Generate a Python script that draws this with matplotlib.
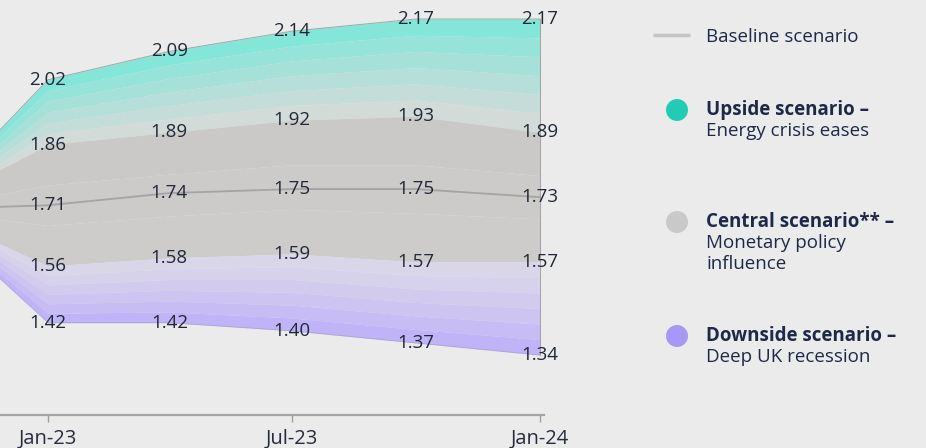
import matplotlib
matplotlib.use("Agg")
import matplotlib.pyplot as plt
import matplotlib.dates as mdates
import numpy as np
import pandas as pd
from matplotlib.colors import to_rgb

plt.rcParams['font.family'] = ['Open Sans', 'DejaVu Sans']

# Quarterly projections of the three scenarios (first point is the common origin)
dates = pd.to_datetime(['2022-10-01', '2023-01-01', '2023-04-01',
                        '2023-07-01', '2023-10-01', '2024-01-01'])
upside_high = [1.70, 2.02, 2.09, 2.14, 2.17, 2.17]
upside_low = [1.70, 1.86, 1.89, 1.92, 1.93, 1.89]
baseline = [1.70, 1.71, 1.74, 1.75, 1.75, 1.73]
downside_high = [1.70, 1.56, 1.58, 1.59, 1.57, 1.57]
downside_low = [1.70, 1.42, 1.42, 1.40, 1.37, 1.34]

tick_dates = pd.to_datetime(['2023-01-01', '2023-07-01', '2024-01-01'])
tick_labels = ['Jan-23', 'Jul-23', 'Jan-24']

legend_title = ['Upside scenario –', 'Central scenario** –', 'Downside scenario –']
legend_desc = [['Energy crisis eases'], ['Monetary policy', 'influence'], ['Deep UK recession']]

BG = '#ebebeb'
TEXT = '#1d2946'

fig = plt.figure(figsize=(9.26, 4.48), dpi=100, facecolor=BG)
W, H = 926, 448
ax = fig.add_axes([0, (H - 415) / H, 544 / W, 415 / H])
ax.set_facecolor(BG)

x = mdates.date2num(dates)
uh, ul = np.array(upside_high), np.array(upside_low)
bl = np.array(baseline)
dh, dl = np.array(downside_high), np.array(downside_low)


def blend(c1, c2, t):
    a, b = np.array(to_rgb(c1)), np.array(to_rgb(c2))
    return tuple(a + (b - a) * t)


def striped(top, bottom, c_top, c_bottom, n, gamma=1.0):
    for i in range(n):
        f0, f1 = i / n, (i + 1) / n
        y0 = top + (bottom - top) * f0
        y1 = top + (bottom - top) * f1
        t = (i / (n - 1)) ** gamma
        ax.fill_between(x, y0, y1, color=blend(c_top, c_bottom, t),
                        lw=0, zorder=1)


# Upside fan: strong teal at the outer edge fading toward the centre
striped(uh, ul, '#84e6d9', '#d2dbd8', 6, gamma=0.9)
# Central fan
striped(ul, dh, '#cbc9c7', '#cecccb', 3)
# Downside fan: pale near the centre, strong lilac at the outer edge
striped(dh, dl, '#dad6ea', '#c0b3f7', 6, gamma=1.3)

# fan outline
ax.plot(x, uh, color='#7f8c8a', lw=0.7, alpha=0.7, zorder=2)
ax.plot(x, dl, color='#9a95b5', lw=0.6, alpha=0.5, zorder=2)
ax.plot([x[-1], x[-1]], [dl[-1], uh[-1]], color='#9a9a9a', lw=0.8, alpha=0.8, zorder=2)

# baseline scenario
ax.plot(x, bl, color='#a4a4a4', lw=1.3, zorder=3)

# value labels
for series in (uh, ul, bl, dh, dl):
    for xi, v in zip(x[1:], series[1:]):
        ax.text(xi, v, f'{v:.2f}', ha='center', va='center', fontsize=13.5,
                color='#202838', zorder=5)

jan23 = mdates.date2num(pd.Timestamp('2023-01-01'))
ax.set_xlim(jan23 - 48 / 1.348, jan23 + (544 - 48) / 1.348)
ax.set_ylim(1.192, 2.217)
ax.set_yticks([])
ax.set_xticks(mdates.date2num(tick_dates))
ax.set_xticklabels(tick_labels, fontsize=14.5, color='#262c3c')
ax.tick_params(axis='x', length=5, width=1, color='#9e9e9e', pad=5)
for s in ('top', 'right', 'left'):
    ax.spines[s].set_visible(False)
ax.spines['bottom'].set_color('#a3a3a3')
ax.spines['bottom'].set_linewidth(1.6)

# legend panel drawn in pixel coordinates
lg = fig.add_axes([0, 0, 1, 1])
lg.set_xlim(0, W)
lg.set_ylim(H, 0)
lg.axis('off')
lg.patch.set_visible(False)

lg.plot([653, 690], [35, 35], color='#c4c4c4', lw=2.5, solid_capstyle='butt')
lg.text(706, 42, 'Baseline scenario', fontsize=13.5, color=TEXT, va='baseline')

dot_colors = ['#22ccb4', '#c9c9c9', '#a698f4']
title_base = [115, 227, 341]
for col, ttl, desc, yb in zip(dot_colors, legend_title, legend_desc, title_base):
    lg.scatter([677], [yb - 5], s=250, color=col, edgecolor='none')
    lg.text(706, yb, ttl, fontsize=13.5, fontweight='bold', color=TEXT, va='baseline')
    for k, line in enumerate(desc):
        lg.text(706, yb + 21 * (k + 1), line, fontsize=13.5, color=TEXT, va='baseline')

fig.savefig('out.png', dpi=100, facecolor=BG)
